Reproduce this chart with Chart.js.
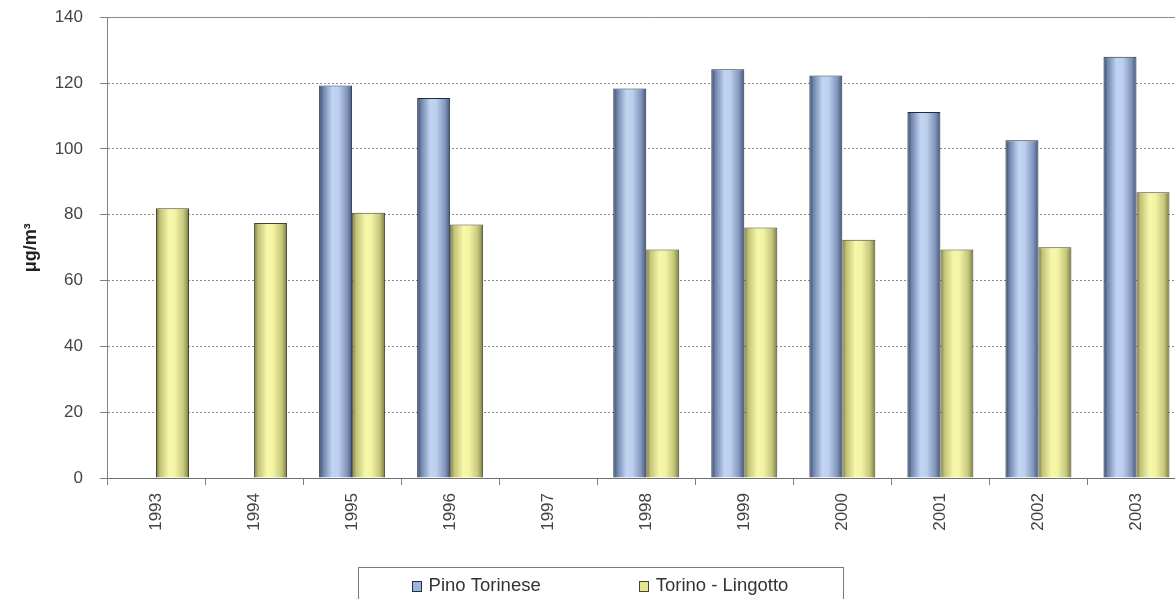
<!DOCTYPE html>
<html>
<head>
<meta charset="utf-8">
<script src="https://cdn.jsdelivr.net/npm/chart.js@4.4.1/dist/chart.umd.min.js"></script>
<style>
  html, body { margin: 0; padding: 0; background: #fff; overflow: hidden; width: 1175px; height: 599px; }
  #wrap { position: relative; width: 1200px; height: 599px; }
</style>
</head>
<body>
<div id="wrap"><canvas id="chart" width="1200" height="599"></canvas></div>
<script>
// Annual values (µg/m³) per monitoring station
const years = ['1993', '1994', '1995', '1996', '1997', '1998', '1999', '2000', '2001', '2002', '2003'];
const pinoTorinese   = [null, null, 119.3, 115.5, null, 118.4, 124.2, 122.3, 111.2, 102.6, 128.0];
const torinoLingotto = [82.0, 77.5, 80.6, 77.0, null, 69.4, 76.1, 72.4, 69.4, 70.1, 86.8];
const seriesNames = ['Pino Torinese', 'Torino - Lingotto'];
const yTicks = [0, 20, 40, 60, 80, 100, 120, 140];
const yTitle = 'μg/m³';

const FONT = '"Liberation Sans", Arial, sans-serif';
const CAT_PCT = 0.673;

// Cylinder-like horizontal shading for each bar
const blueStops = [[0, '#34425e'], [0.12, '#6f84ac'], [0.4, '#c1d4f2'], [0.58, '#bccfee'], [0.84, '#8397bd'], [1, '#46567a']];
const yellowStops = [[0, '#75753e'], [0.12, '#c2c278'], [0.4, '#f8f8aa'], [0.58, '#f3f3a3'], [0.84, '#c6c67c'], [1, '#7a7a42']];

function cylinderFill(stops, flat) {
  return function (ctx) {
    const chart = ctx.chart;
    const xs = chart.scales.x;
    if (ctx.type !== 'data' || !xs || !chart.chartArea) return flat;
    const center = xs.getPixelForValue(ctx.dataIndex);
    const cat = xs.width / years.length;
    const barW = cat * CAT_PCT / 2;
    const left = ctx.datasetIndex === 0 ? center - barW : center;
    const g = chart.ctx.createLinearGradient(left, 0, left + barW, 0);
    stops.forEach(([o, c]) => g.addColorStop(o, c));
    return g;
  };
}

// Solid frame line along the top of the plot
const topLine = {
  id: 'topLine',
  beforeDatasetsDraw(chart) {
    const { ctx, chartArea } = chart;
    const y = Math.round(chartArea.top) + 0.5;
    ctx.save();
    ctx.strokeStyle = '#8a8a8a';
    ctx.lineWidth = 1;
    ctx.beginPath();
    ctx.moveTo(chartArea.left, y);
    ctx.lineTo(chart.width, y);
    ctx.stroke();
    ctx.restore();
  }
};

// Framed legend below the axis
const boxedLegend = {
  id: 'boxedLegend',
  afterDraw(chart) {
    const { ctx, width, height } = chart;
    const sets = chart.data.datasets;
    ctx.save();
    ctx.font = '18.5px ' + FONT;
    const sq = 9, gap = 8, spacing = 98;
    const widths = sets.map(ds => sq + gap + ctx.measureText(ds.label).width);
    const total = widths.reduce((a, b) => a + b, 0) + spacing * (sets.length - 1);
    const cx = width / 2;
    const boxW = 485;
    const boxTop = height - 32;
    ctx.strokeStyle = '#7a7a7a';
    ctx.lineWidth = 1;
    ctx.strokeRect(Math.round(cx - boxW / 2) + 0.5, boxTop + 0.5, boxW, 60);
    const cy = height - 13;
    let x = cx - total / 2;
    sets.forEach((ds, i) => {
      ctx.fillStyle = ds.legendFill;
      ctx.fillRect(Math.round(x) + 0.5, Math.round(cy - 5) + 0.5, sq, 10);
      ctx.strokeStyle = ds.borderColor;
      ctx.strokeRect(Math.round(x) + 0.5, Math.round(cy - 5) + 0.5, sq, 10);
      ctx.fillStyle = '#333';
      ctx.textBaseline = 'middle';
      ctx.textAlign = 'left';
      ctx.fillText(ds.label, x + sq + gap, cy);
      x += widths[i] + spacing;
    });
    ctx.restore();
  }
};

new Chart(document.getElementById('chart'), {
  type: 'bar',
  data: {
    labels: years,
    datasets: [
      {
        label: seriesNames[0],
        data: pinoTorinese,
        backgroundColor: cylinderFill(blueStops, '#a4b9e0'),
        legendFill: '#9fb4dc',
        borderColor: '#232c3e',
        borderWidth: 1,
        categoryPercentage: CAT_PCT,
        barPercentage: 1
      },
      {
        label: seriesNames[1],
        data: torinoLingotto,
        backgroundColor: cylinderFill(yellowStops, '#e8e890'),
        legendFill: '#e6e68e',
        borderColor: '#45452c',
        borderWidth: 1,
        categoryPercentage: CAT_PCT,
        barPercentage: 1
      }
    ]
  },
  options: {
    responsive: false,
    animation: false,
    layout: { padding: { top: 17.3, right: 14.5, bottom: 0, left: 0 } },
    plugins: {
      legend: { display: false },
      tooltip: { enabled: false }
    },
    scales: {
      x: {
        offset: true,
        grid: {
          offset: true,
          drawOnChartArea: false,
          drawTicks: true,
          tickLength: 7,
          color: '#808080'
        },
        border: { display: true, color: '#707070', width: 1 },
        ticks: {
          minRotation: 90,
          maxRotation: 90,
          padding: 8,
          color: '#444',
          font: { family: FONT, size: 17 }
        },
        afterFit(scale) { scale.height = 121; }
      },
      y: {
        min: yTicks[0],
        max: yTicks[yTicks.length - 1],
        afterBuildTicks(scale) { scale.ticks = yTicks.map(v => ({ value: v })); },
        grid: {
          color: '#8c8c8c',
          lineWidth: 1,
          tickLength: 7,
          tickColor: '#808080',
          tickBorderDash: []
        },
        border: { display: true, color: '#808080', width: 1, dash: [2, 2] },
        ticks: {
          padding: 17,
          color: '#444',
          font: { family: FONT, size: 17 }
        },
        title: {
          display: true,
          text: yTitle,
          color: '#222',
          font: { family: FONT, size: 18, weight: 'bold' },
          padding: { top: 20, bottom: 0 }
        },
        afterFit(scale) {
          scale.width = 107;
          scale.paddingTop = 0;
          scale.paddingBottom = 0;
        }
      }
    }
  },
  plugins: [topLine, boxedLegend]
});
</script>
</body>
</html>
